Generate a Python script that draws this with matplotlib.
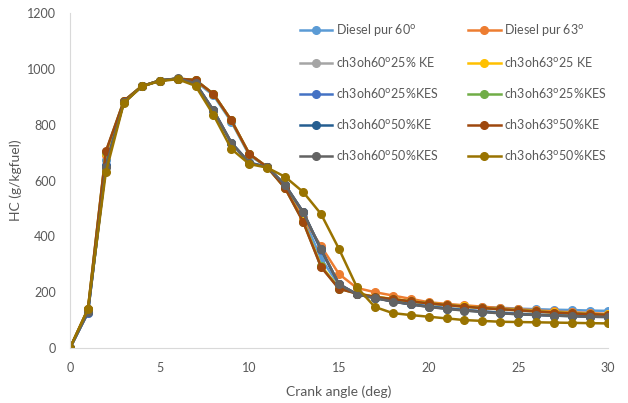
import numpy as np
import matplotlib
matplotlib.use("Agg")
import matplotlib.pyplot as plt

plt.rcParams["font.family"] = ["Lato", "DejaVu Sans"]

# Crank angle (deg)
angle = list(range(0, 31))

# HC (g/kgfuel)
diesel60 = [0, 130, 675, 882, 937, 958, 965, 955, 905, 810, 690, 648, 578, 470, 320, 225,
            195, 182, 173, 165, 158, 154, 150, 147, 144, 141, 139, 137, 136, 134, 133]
diesel63 = [0, 135, 690, 883, 938, 958, 965, 958, 910, 815, 695, 648, 575, 465, 365, 265,
            215, 200, 188, 176, 164, 158, 153, 148, 143, 139, 135, 131, 128, 125, 122]
m60_25ke = [0, 125, 650, 880, 937, 958, 965, 948, 850, 735, 665, 648, 583, 487, 350, 228,
            192, 180, 168, 158, 150, 144, 138, 132, 128, 124, 121, 118, 116, 114, 113]
m63_25ke = [0, 138, 700, 884, 938, 958, 965, 960, 910, 815, 695, 648, 573, 455, 295, 215,
            196, 184, 176, 168, 161, 155, 149, 144, 140, 136, 132, 128, 125, 122, 120]
m60_25kes = [0, 127, 655, 880, 937, 958, 965, 948, 851, 735, 664, 648, 583, 487, 352, 229,
             192, 180, 167, 157, 149, 142, 136, 131, 126, 122, 119, 117, 115, 113, 112]
m63_25kes = [0, 139, 702, 885, 938, 958, 965, 960, 910, 815, 695, 648, 572, 453, 292, 213,
             195, 183, 175, 167, 160, 154, 148, 143, 139, 135, 131, 127, 124, 121, 119]
m60_50ke = [0, 128, 652, 880, 937, 958, 965, 948, 851, 735, 663, 648, 584, 487, 353, 229,
            192, 179, 167, 156, 148, 141, 135, 130, 125, 121, 118, 116, 114, 112, 111]
m63_50ke = [0, 140, 705, 885, 938, 958, 965, 960, 910, 815, 695, 648, 572, 452, 290, 212,
            195, 183, 175, 167, 160, 154, 148, 143, 139, 135, 131, 127, 124, 121, 119]
m60_50kes = [0, 128, 650, 880, 937, 958, 966, 948, 852, 735, 663, 648, 584, 487, 355, 229,
             192, 179, 166, 156, 147, 140, 134, 129, 124, 121, 118, 116, 114, 112, 111]
m63_50kes = [0, 140, 630, 877, 937, 956, 963, 939, 835, 713, 659, 646, 613, 559, 480, 355,
             218, 147, 125, 118, 112, 106, 100, 97, 94, 93, 92, 91, 90, 89, 88]

deg = r"$^\mathrm{o}$"
series = [
    ("Diesel pur 60" + deg, diesel60, "#5B9BD5"),
    ("Diesel pur 63" + deg, diesel63, "#ED7D31"),
    ("ch3oh60" + deg + "25% KE", m60_25ke, "#A5A5A5"),
    ("ch3oh63" + deg + "25 KE", m63_25ke, "#FFC000"),
    ("ch3oh60" + deg + "25%KES", m60_25kes, "#4472C4"),
    ("ch3oh63" + deg + "25%KES", m63_25kes, "#70AD47"),
    ("ch3oh60" + deg + "50%KE", m60_50ke, "#255E91"),
    ("ch3oh63" + deg + "50%KE", m63_50ke, "#9E480E"),
    ("ch3oh60" + deg + "50%KES", m60_50kes, "#636363"),
    ("ch3oh63" + deg + "50%KES", m63_50kes, "#997300"),
]

fig = plt.figure(figsize=(6.28, 4.03), dpi=100)
ax = fig.add_axes([0.1115, 0.1365, 0.8565, 0.8312])

handles = []
for label, vals, color in series:
    h, = ax.plot(angle, vals, color=color, linewidth=1.8, marker="o",
                 markersize=5.5, label=label)
    handles.append(h)

ax.set_xlim(0, 30)
ax.set_ylim(0, 1200)
ax.set_xticks(range(0, 31, 5))
ax.set_yticks(range(0, 1201, 200))
ax.tick_params(axis="x", length=0, labelsize=9, colors="#595959", pad=10)
ax.tick_params(axis="y", length=0, labelsize=9, colors="#595959", pad=10)
for s in ["top", "right"]:
    ax.spines[s].set_visible(False)
for s in ["left", "bottom"]:
    ax.spines[s].set_color("#D9D9D9")
ax.set_xlabel("Crank angle (deg)", fontsize=10, color="#595959", labelpad=8)
ax.set_ylabel("HC (g/kgfuel)", fontsize=10, color="#595959", labelpad=4)

# two legend columns: 60 deg series on the left, 63 deg on the right
leg_kw = dict(loc="upper left", frameon=False, fontsize=9, handlelength=2.6,
              handletextpad=0.3, labelspacing=1.35, borderpad=0, borderaxespad=0,
              labelcolor="#595959")
leg1 = ax.legend(handles[0::2], [h.get_label() for h in handles[0::2]],
                 bbox_to_anchor=(0.4275, 0.972), **leg_kw)
ax.add_artist(leg1)
ax.legend(handles[1::2], [h.get_label() for h in handles[1::2]],
          bbox_to_anchor=(0.740, 0.972), **leg_kw)

fig.savefig("out.png", dpi=100)
